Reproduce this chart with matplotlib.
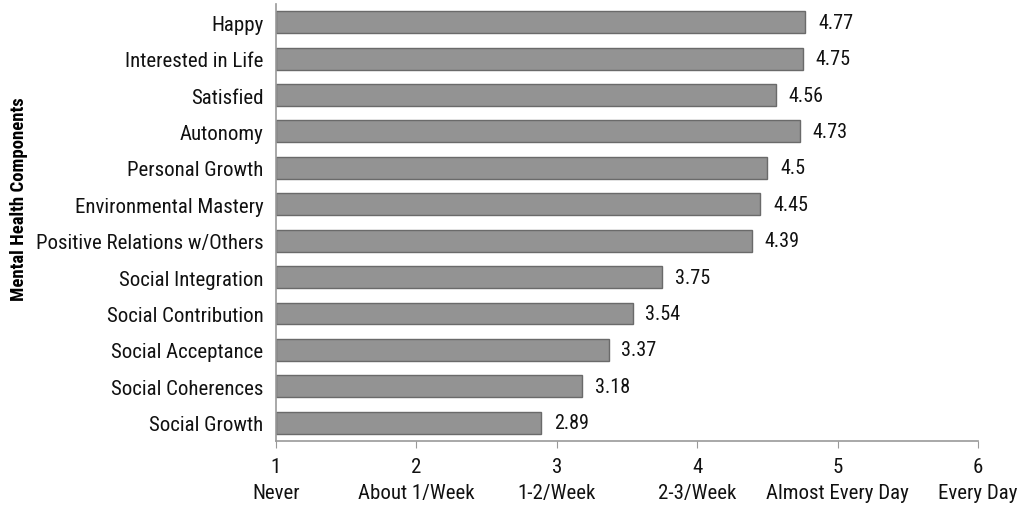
"""
Mental health components horizontal bar chart
"""
import matplotlib.pyplot as plt
from matplotlib import font_manager

names = {f.name for f in font_manager.fontManager.ttflist}
fam = 'DejaVu Sans'
for cand in ['Liberation Sans Narrow', 'Roboto Condensed', 'Open Sans Condensed', 'Noto Sans Condensed']:
    if cand in names:
        fam = cand
        break
plt.rcParams['font.family'] = [fam, 'DejaVu Sans']
plt.rcParams['font.stretch'] = 'condensed'

# data
components = ['Happy', 'Interested in Life', 'Satisfied', 'Autonomy', 'Personal Growth',
              'Environmental Mastery', 'Positive Relations w/Others', 'Social Integration',
              'Social Contribution', 'Social Acceptance', 'Social Coherences', 'Social Growth']
scores = [4.77, 4.75, 4.56, 4.73, 4.5, 4.45, 4.39, 3.75, 3.54, 3.37, 3.18, 2.89]
score_labels = ['4.77', '4.75', '4.56', '4.73', '4.5', '4.45', '4.39', '3.75', '3.54', '3.37', '3.18', '2.89']
xticks = [1, 2, 3, 4, 5, 6]
xtick_names = ['Never', 'About 1/Week', '1-2/Week', '2-3/Week', 'Almost Every Day', 'Every Day']

fig = plt.figure(figsize=(10.32, 5.1), dpi=100)
ax = fig.add_axes([0.2674, 0.1333, 0.6803, 0.857])

ypos = list(range(len(components)))
ax.barh(ypos, [s - 1 for s in scores], left=1, height=0.6,
        color='#939393', edgecolor='#6a6a6a', linewidth=1)

for y, s, lab in zip(ypos, scores, score_labels):
    ax.text(s + 0.09, y, lab, va='center', ha='left', fontsize=14.5, color='#111111')

ax.set_xlim(1, 6)
ax.set_ylim(11.5, -0.5)
ax.set_yticks(ypos)
ax.set_yticklabels(components, fontsize=15, color='#111111')
ax.set_xticks(xticks)
ax.set_xticklabels([f'{t}\n{n}' for t, n in zip(xticks, xtick_names)],
                   fontsize=15, color='#111111', linespacing=1.45)

ax.tick_params(axis='y', length=0, pad=9)
ax.tick_params(axis='x', length=5, color='#999999', pad=6.5)

for side in ['top', 'right']:
    ax.spines[side].set_visible(False)
for side in ['left', 'bottom']:
    ax.spines[side].set_color('#999999')
    ax.spines[side].set_linewidth(1.2)

ax.set_ylabel('Mental Health Components', fontsize=13.5, fontweight='bold')
ax.yaxis.set_label_coords(-0.353, 0.556)

fig.savefig('out.png', dpi=100)
